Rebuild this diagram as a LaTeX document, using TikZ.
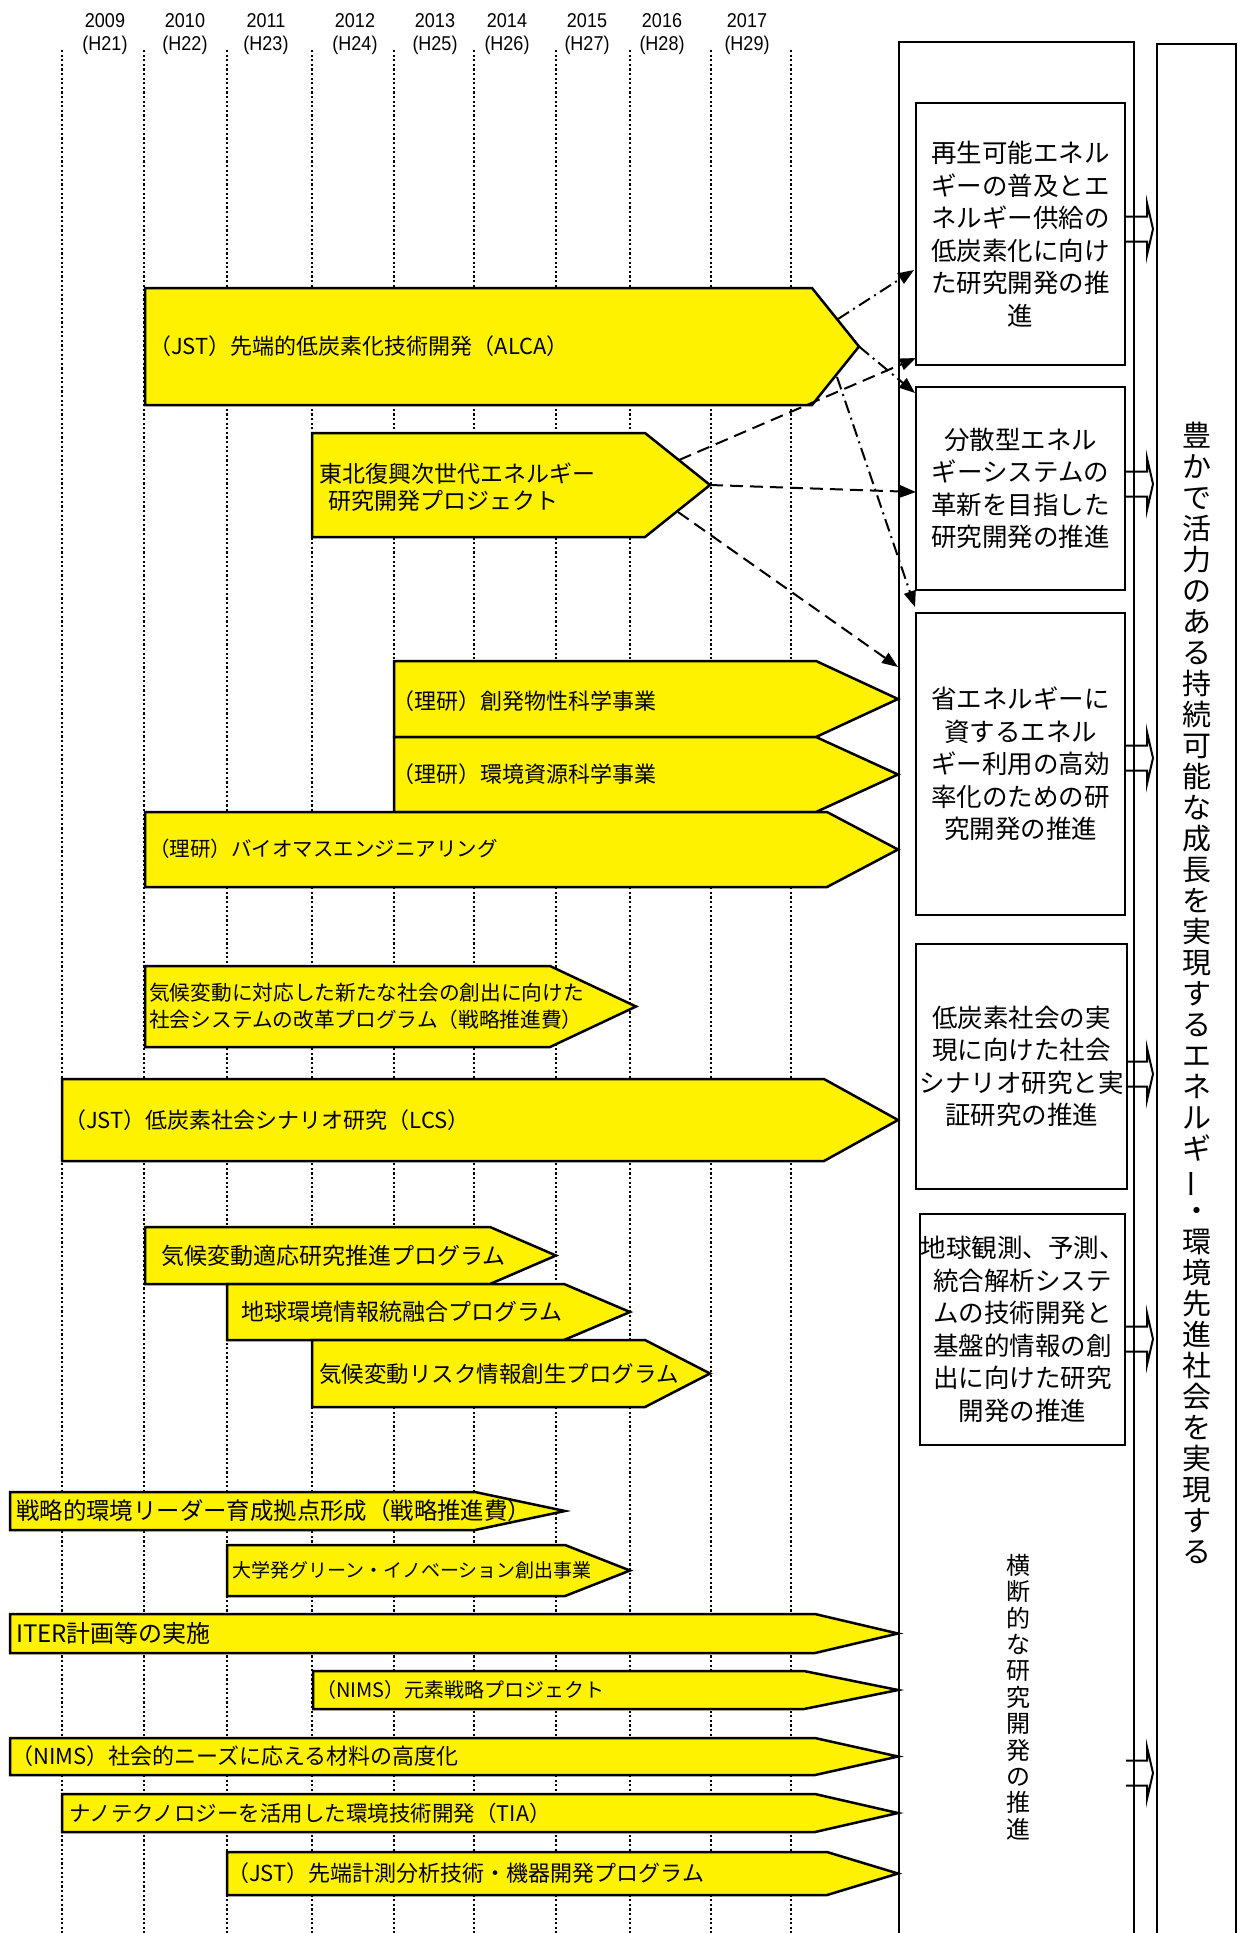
\documentclass[tikz,border=0pt]{standalone}
\usepackage{fontspec}
\usepackage{graphicx}
\setmainfont{Noto Sans CJK JP}
\newfontfamily\yearfont[FakeStretch=0.9]{Liberation Sans}
\usetikzlibrary{arrows.meta}

\tikzstyle{plan}=[draw,line width=2.5pt,fill=yellow,line join=miter]
\tikzstyle{plantext}=[anchor=west,inner sep=0pt,align=left]
\tikzstyle{goal}=[draw,line width=2.5pt,align=center,inner sep=0pt,font=\fontsize{25.5}{32.5}\selectfont]
\tikzstyle{vert}=[align=center,inner sep=0pt]
\tikzstyle{frame}=[draw,line width=2pt]
\tikzstyle{grid}=[line width=2.2pt,dash pattern=on 2.2pt off 2.4pt]
\tikzstyle{year}=[font=\yearfont\fontsize{20}{22}\selectfont,inner sep=0pt]
\tikzstyle{link}=[line width=2pt,-{Triangle[length=16pt,width=12pt]}]
\tikzstyle{dashlink}=[link,dash pattern=on 13pt off 7pt]
\tikzstyle{dotlink}=[link,dash pattern=on 13pt off 5pt on 2pt off 5pt]
\newcommand{\vbar}{\rotatebox[origin=c]{90}{ー}}

\begin{document}
\begin{tikzpicture}[x=1pt,y=-1pt]
    \useasboundingbox (0,0) rectangle (1242,1933);
    % years and grid
    \foreach \yr/\hs/\x in {2009/21/105, 2010/22/185, 2011/23/266, 2012/24/355,
        2013/25/435, 2014/26/507, 2015/27/587, 2016/28/662, 2017/29/747} {
        \node[year] (y\yr) at (\x,21) {\yr};
        \node[year] (h\yr) at (\x,45) {(H\hs)};
    }
    \foreach \x in {62,144,227,312,394,474,556,630,711,791}
        \draw[grid] (\x,50) -- (\x,1933);

    % the two long frames on the right
    \draw[frame] (899,1940) -- (899,42) -- (1134,42) -- (1134,1940);
    \draw[frame] (1157,1940) -- (1157,44) -- (1236,44) -- (1236,1940);

    % programme bars
    \foreach \name/\l/\t/\b/\s/\e in {alca/145/288/405/812/859, tohoku/312/433/537/645/710,
        sohatsu/394/661/737/816/898, kankyo/394/737/812/816/898, bio/145/812/887/827/898,
        kikou/145/966/1047/550/636, lcs/62/1079/1161/824/898, tekiou/145/1227/1284/490/556,
        chikyu/227/1284/1340/564/630, risk/312/1340/1407/645/710, leader/10/1492/1530/475/565,
        green/227/1545/1596/565/630, iter/10/1614/1653/815/898, genso/313/1671/1709/804/898,
        needs/10/1738/1775/815/898, nano/62/1794/1832/815/898, sentan/227/1852/1895/827/898} {
        \draw[plan] (\l,\t) -- (\s,\t) -- (\e,{(\t+\b)/2}) -- (\s,\b) -- (\l,\b) -- cycle;
        \coordinate (\name-tip) at (\e,{(\t+\b)/2});
    }
    \foreach \name/\x/\y/\size/\txt in {alca/149/346/22/{（JST）先端的低炭素化技術開発（ALCA）},
        tohoku/319/487/23/{東北復興次世代エネルギー\\\hspace*{0.4em}研究開発プロジェクト},
        sohatsu/392/701/22/{（理研）創発物性科学事業}, kankyo/392/774/22/{（理研）環境資源科学事業},
        bio/149/849/20.5/{（理研）バイオマスエンジニアリング},
        kikou/149/1006/20.7/{気候変動に対応した新たな社会の創出に向けた\\社会システムの改革プログラム（戦略推進費）},
        lcs/64/1120/22/{（JST）低炭素社会シナリオ研究（LCS）}, tekiou/161/1256/23/{気候変動適応研究推進プログラム},
        chikyu/241/1312/23/{地球環境情報統融合プログラム}, risk/319/1374/22.5/{気候変動リスク情報創生プログラム},
        leader/16/1511/23.4/{戦略的環境リーダー育成拠点形成（戦略推進費）},
        green/232/1570/19/{大学発グリーン・イノベーション創出事業}, iter/16/1633/24/{ITER計画等の実施},
        genso/316/1690/20/{（NIMS）元素戦略プロジェクト}, needs/11/1756/22/{（NIMS）社会的ニーズに応える材料の高度化},
        nano/69/1813/21.5/{ナノテクノロジーを活用した環境技術開発（TIA）},
        sentan/227/1873/22/{（JST）先端計測分析技術・機器開発プログラム}}
        \node[plantext,font=\fontsize{\size}{27}\selectfont] (\name) at (\x,\y) {\txt};

    % policy boxes
    \node[goal,minimum width=209,minimum height=262] (renew) at (1020.5,234) {再生可能エネル\\ギーの普及とエ\\ネルギー供給の\\低炭素化に向け\\た研究開発の推\\進};
    \node[goal,minimum width=209,minimum height=203] (distr) at (1020.5,488.5) {分散型エネル\\ギーシステムの\\革新を目指した\\研究開発の推進};
    \node[goal,minimum width=209,minimum height=302] (saving) at (1020.5,764) {省エネルギーに\\資するエネル\\ギー利用の高効\\率化のための研\\究開発の推進};
    \node[goal,minimum width=211,minimum height=245] (scene) at (1021.5,1066.5) {低炭素社会の実\\現に向けた社会\\シナリオ研究と実\\証研究の推進};
    \node[goal,minimum width=205,minimum height=231] (observe) at (1022.5,1329.5) {地球観測、予測、\\統合解析システ\\ムの技術開発と\\基盤的情報の創\\出に向けた研究\\開発の推進};
    \node[vert,font=\fontsize{24}{26.4}\selectfont] (cross) at (1018,1697) {横\\断\\的\\な\\研\\究\\開\\発\\の\\推\\進};
    \node[vert,font=\fontsize{29}{31}\selectfont] (aim) at (1196.5,993) {豊\\か\\で\\活\\力\\の\\あ\\る\\持\\続\\可\\能\\な\\成\\長\\を\\実\\現\\す\\る\\エ\\ネ\\ル\\ギ\\ \vbar\\・\\環\\境\\先\\進\\社\\会\\を\\実\\現\\す\\る};

    % hollow arrows into the goal column
    \foreach \c in {229,484,758,1074,1339,1773}
        \draw[line width=2pt] (1126,{\c-12.5}) -- (1147,{\c-12.5}) -- (1147,{\c-26}) -- (1153,\c)
            -- (1147,{\c+26}) -- (1147,{\c+12.5}) -- (1126,{\c+12.5});

    % links from bars to boxes
    \coordinate (alca-up) at (838,319);
    \coordinate (alca-low) at (837,377);
    \coordinate (tohoku-up) at (679,460);
    \coordinate (tohoku-low) at (678,512);
    \coordinate (renew-in) at (914,270);
    \coordinate (renew-foot) at (916,358);
    \coordinate (distr-top) at (915,393);
    \coordinate (distr-in) at (916,492);
    \coordinate (saving-top) at (915,607);
    \coordinate (saving-edge) at (898,667);
    \draw[dotlink] (alca-up) -- (renew-in);
    \draw[dotlink] (alca-tip) -- (distr-top);
    \draw[dotlink] (alca-low) -- (saving-top);
    \draw[dashlink] (tohoku-up) -- (renew-foot);
    \draw[dashlink] (tohoku-tip) -- (distr-in);
    \draw[dashlink] (tohoku-low) -- (saving-edge);
\end{tikzpicture}
\end{document}
